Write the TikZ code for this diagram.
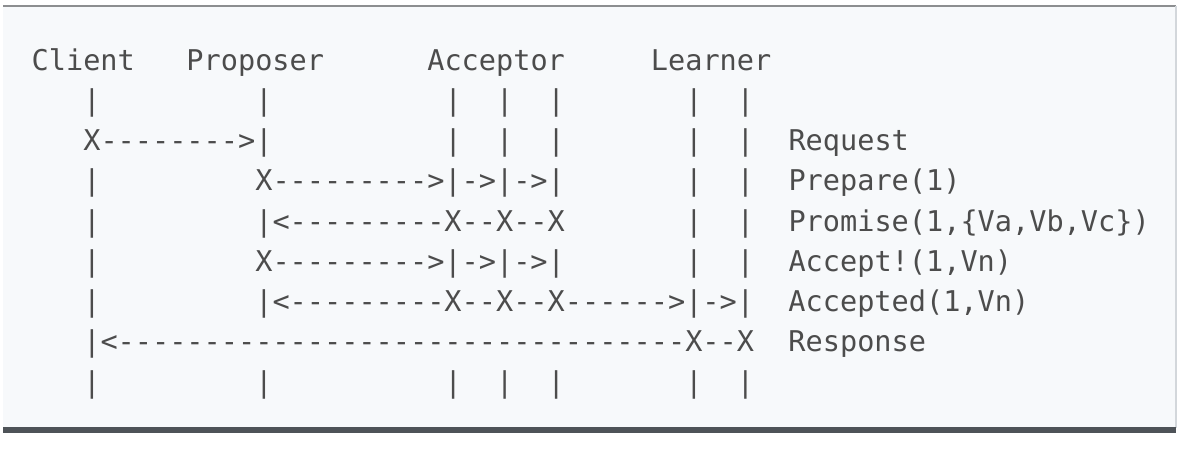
\documentclass[tikz,border=0pt]{standalone}
\usepackage{fontspec}
\setmonofont{DejaVu Sans Mono}
\definecolor{bgc}{HTML}{F7F9FB}
\definecolor{topc}{HTML}{8C8E90}
\definecolor{rightc}{HTML}{D3D7DB}
\definecolor{botc}{HTML}{4E5358}
\definecolor{txt}{HTML}{4C4C4C}
\tikzset{
  asc/.style={anchor=base west, inner sep=0pt, text=txt,
    font=\ttfamily\fontsize{28.57}{34}\selectfont}
}
\begin{document}
\begin{tikzpicture}[x=1pt,y=-1pt]
\useasboundingbox (0,0) rectangle (1188,450);
\fill[white] (0,0) rectangle (1188,450);
\fill[bgc] (3,5) rectangle (1176,430);
\draw[topc, line width=2pt] (3,6) -- (1176,6);
\draw[rightc, line width=1.5pt] (1176,6) -- (1176,428);
\fill[botc] (3,427) rectangle (1176,433);
\node[asc] (r0) at (31.5,70.0)  {Client~~~Proposer~~~~~~Acceptor~~~~~Learner};
\node[asc] (r1) at (31.5,110.3) {~~~|~~~~~~~~~|~~~~~~~~~~|~~|~~|~~~~~~~|~~|};
\node[asc] (r2) at (31.5,150.5) {~~~X-------->|~~~~~~~~~~|~~|~~|~~~~~~~|~~|~~Request};
\node[asc] (r3) at (31.5,190.8) {~~~|~~~~~~~~~X--------->|->|->|~~~~~~~|~~|~~Prepare(1)};
\node[asc] (r4) at (31.5,231.0) {~~~|~~~~~~~~~|<---------X--X--X~~~~~~~|~~|~~Promise(1,\{Va,Vb,Vc\})};
\node[asc] (r5) at (31.5,271.3) {~~~|~~~~~~~~~X--------->|->|->|~~~~~~~|~~|~~Accept!(1,Vn)};
\node[asc] (r6) at (31.5,311.5) {~~~|~~~~~~~~~|<---------X--X--X------>|->|~~Accepted(1,Vn)};
\node[asc] (r7) at (31.5,351.8) {~~~|<---------------------------------X--X~~Response};
\node[asc] (r8) at (31.5,392.0) {~~~|~~~~~~~~~|~~~~~~~~~~|~~|~~|~~~~~~~|~~|};
\end{tikzpicture}
\end{document}
